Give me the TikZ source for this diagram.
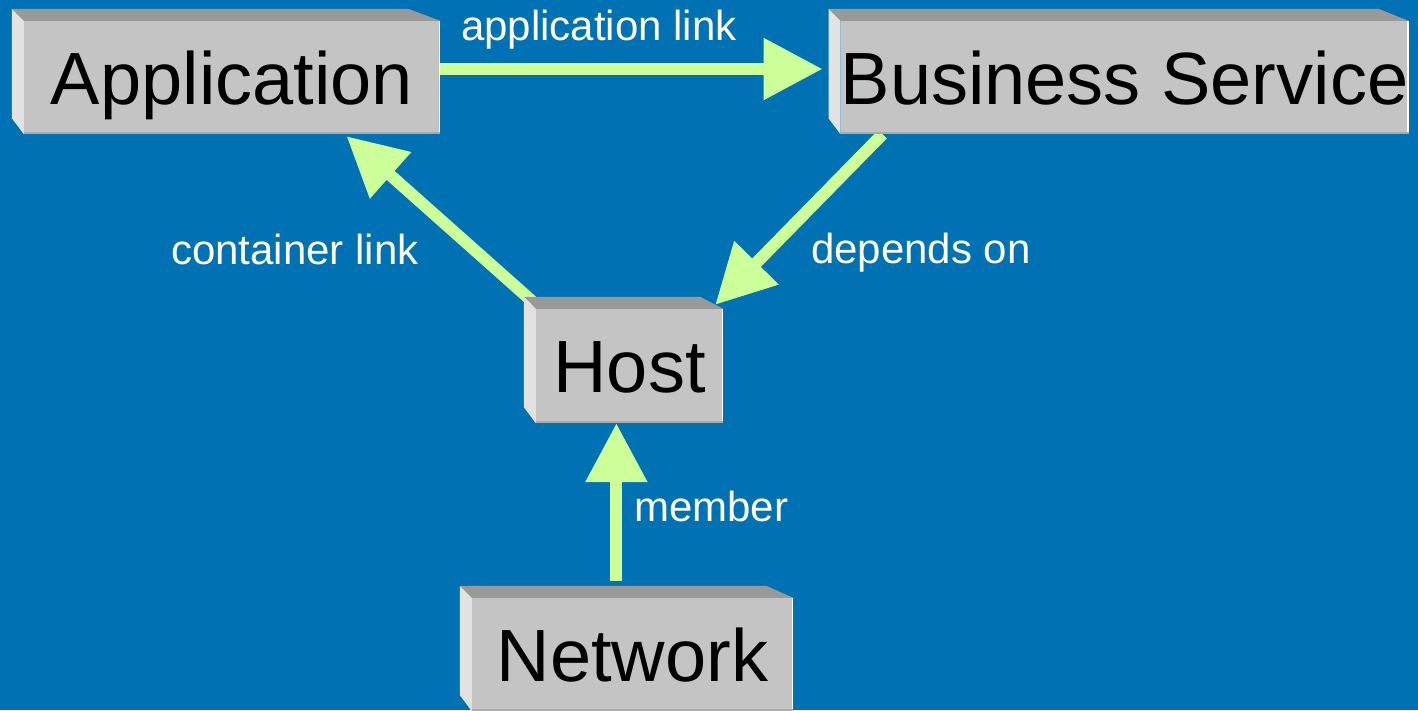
\documentclass[tikz,border=0pt]{standalone}
\usepackage{fontspec}
\setmainfont{Liberation Sans}
\usetikzlibrary{arrows.meta,calc}

\definecolor{backblue}{RGB}{0,113,179}
\definecolor{linkgreen}{RGB}{204,255,153}
\definecolor{facegray}{RGB}{196,196,196}
\definecolor{topgray}{RGB}{153,153,153}
\definecolor{sidegray}{RGB}{226,226,226}
\definecolor{edgegray}{RGB}{170,170,170}

\pgfdeclarelayer{backdrop}
\pgfdeclarelayer{links}
\pgfsetlayers{backdrop,links,main}

\tikzset{
  face/.style={rectangle, fill=facegray, inner sep=0pt, text=black,
    font=\fontsize{74pt}{80pt}\selectfont, text height=53pt, text depth=0pt},
  topface/.style={fill=topgray},
  sideface/.style={fill=sidegray},
  link/.style={draw=linkgreen, line width=12pt,
    -{Triangle[length=59pt,width=59pt,fill=linkgreen]}},
  linklabel/.style={text=white, inner sep=0pt, anchor=base west,
    font=\fontsize{42pt}{48pt}\selectfont},
}

% #1 name, #2 centre, #3 width, #4 height, #5 top-right inset, #6 text
\newcommand\slabbox[6]{%
  \node[face, minimum width=#3, minimum height=#4] (#1) at #2 {#6};
  \fill[topface] (#1.north west) -- ++(-12,-12)
    -- ($(#1.north east)+(-#5,-12)$) -- (#1.north east) -- cycle;
  \fill[sideface] (#1.north west) -- ++(-12,-12)
    -- ($(#1.south west)+(-12,-16)$) -- (#1.south west) -- cycle;
  \draw[edgegray, line width=2pt] ($(#1.south west)+(0,-1)$) -- ($(#1.south east)+(0,-1)$);
  \draw[white, line width=1.5pt] ($(#1.north east)+(-0.75,0)$) -- ($(#1.south east)+(-0.75,-2)$);
}

\begin{document}
\begin{tikzpicture}[x=1pt, y=-1pt]
  \begin{pgfonlayer}{backdrop}
    \fill[backblue] (0,0) rectangle (1418,710);
  \end{pgfonlayer}
  \useasboundingbox (0,0) rectangle (1418,710);

  % the four entities
  \slabbox{app}{(232,77.5)}{416pt}{113pt}{32}{Application}
  \slabbox{biz}{(1124.5,77.5)}{567pt}{113pt}{30}{Business Service}
  \slabbox{host}{(629.5,366)}{187pt}{114pt}{23}{Host}
  \slabbox{net}{(632.5,654.5)}{321pt}{113pt}{27}{Network}

  % relations, kept underneath the boxes
  \coordinate (appTip) at ($(app.south west)!.775!(app.south east)+(0,2)$);
  \coordinate (bizFoot) at ($(biz.south west)+(42,0)$);
  \coordinate (hostTip) at ($(host.north east)+(-8,-4)$);
  \coordinate (memberTip) at ($(host.south west)!.43!(host.south east)$);
  \coordinate (memberFoot) at ($(memberTip |- net.north)+(0,-17)$);
  \begin{pgfonlayer}{links}
    \draw[link] ([yshift=8.5pt]app.east) -- ($(biz.west)+(-18,-8.5)$);
    \draw[link] ($(host.north west)+(-3,-7)$) -- (appTip);
    \draw[link] (bizFoot) -- (hostTip);
    \draw[link] (memberFoot) -- (memberTip);
  \end{pgfonlayer}

  \node[linklabel] (lApp) at (461,40) {application link};
  \node[linklabel] (lCont) at (171,264) {container link};
  \node[linklabel] (lDep) at (811,263) {depends on};
  \node[linklabel] (lMem) at (634,521) {member};
\end{tikzpicture}
\end{document}
